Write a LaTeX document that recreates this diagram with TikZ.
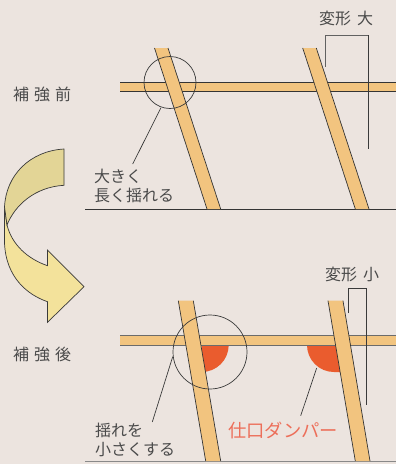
\documentclass[tikz,border=0pt]{standalone}
\usepackage{fontspec}
\setmainfont{Noto Sans CJK JP}
\definecolor{bgc}{HTML}{ECE4DF}
\definecolor{wood}{HTML}{F2C47F}
\definecolor{ink}{HTML}{3A3A3A}
\definecolor{txt}{HTML}{4A4A4A}
\definecolor{tanc}{HTML}{E3D596}
\definecolor{yelc}{HTML}{F3E29B}
\definecolor{damp}{HTML}{EA5C2E}
\definecolor{redt}{HTML}{EC6F5A}
\tikzset{
  lbl/.style={inner sep=0pt,text=txt,font=\fontsize{16}{18}\selectfont,anchor=center},
  thin line/.style={draw=ink,line width=0.7pt},
  edge line/.style={draw=ink!90!black,line width=0.7pt},
}
\begin{document}
\begin{tikzpicture}[x=1pt,y=-1pt]
\useasboundingbox (0,0) rectangle (396,464);
\fill[bgc] (0,0) rectangle (396,464);
% arrow
\path[fill=yelc,draw=ink,line width=0.7pt,line join=miter]
  (4.5,207) -- (4.5,243) .. controls (6,278) and (28,295) .. (47.5,301.7)
  -- (47.5,322.3) -- (84,286.7) -- (47.5,250) -- (47.5,265.7)
  .. controls (28,259) and (12,245) .. (7,225) -- cycle;
\path[fill=tanc,draw=ink,line width=0.7pt,line join=miter]
  (64,149) .. controls (30,151) and (6,175) .. (4.5,207) -- (7,225)
  .. controls (15,205) and (35,187) .. (64,185.3) -- cycle;
% top frame
\fill[wood] (120,82.5) rectangle (396,91);
\draw[edge line] (120,82.5) -- (396,82.5) (120,91) -- (396,91);
\draw[edge line] (85,209.5) -- (396,209.5);
\foreach \a/\b/\c/\d/\e in {154.5/168/207/220.7/48, 302.7/316.3/355.3/369/48}{
  \fill[wood] (\a,\e) -- (\b,\e) -- (\d,209) -- (\c,209) -- cycle;
  \draw[edge line] (\a,\e) -- (\c,209) (\b,\e) -- (\d,209);
}
\coordinate (bigc) at (170,82.5);
\draw[thin line] (bigc) circle [radius=26];
\coordinate (l1a) at (161,107.7);
\coordinate (l1b) at (132.7,164);
\draw[thin line] (l1a) -- (l1b);
\draw[thin line,draw=ink!80] (325.7,66.7) -- (325.7,35) -- (368,35);
\draw[thin line] (368,35) -- (368,149);
\node[lbl] (t1) at (346,18) {変形\hspace{6pt}大};
\node[lbl,anchor=west] (t2) at (94,176) {大きく};
\node[lbl,anchor=west] (t3) at (94,195) {長く揺れる};
\node[lbl,anchor=west] (t4) at (13,94) {補\hspace{5pt}強\hspace{5pt}前};
\node[lbl,anchor=west] (t5) at (13,354) {補\hspace{5pt}強\hspace{5pt}後};
% bottom frame: dampers
\fill[damp] (201.7,345) -- (228.7,345) arc [start angle=0,end angle=90,x radius=27,y radius=27] -- cycle;
\fill[damp] (334,345) -- (307,345) arc [start angle=180,end angle=90,x radius=27,y radius=27] -- (345,372.5) -- (345,345) -- cycle;
\fill[wood] (120,335) rectangle (396,345);
\draw[draw=ink!75,line width=1pt] (120,335) -- (396,335) (120,345) -- (396,345);
\draw[draw=ink!60,line width=1pt] (85,461.7) -- (396,461.7);
\foreach \a/\b/\c/\d in {178.3/193.3/205.7/220.7, 328/343/355.3/370}{
  \fill[wood] (\a,300.7) -- (\b,300.7) -- (\d,461) -- (\c,461) -- cycle;
  \draw[edge line] (\a,300.7) -- (\c,461) (\b,300.7) -- (\d,461);
}
\coordinate (smc) at (210,352);
\draw[thin line] (smc) circle [radius=37];
\coordinate (l2a) at (172.7,356.7);
\coordinate (l2b) at (152.3,422);
\draw[thin line] (l2a) -- (l2b);
\coordinate (l3a) at (316.7,368);
\coordinate (l3b) at (300.7,415.7);
\draw[thin line] (l3a) -- (l3b);
\draw[thin line] (348.3,313) -- (348.3,288) -- (366.7,288) -- (366.7,405);
\node[lbl] (t6) at (352,274) {変形\hspace{6pt}小};
\node[lbl,anchor=west] (t7) at (95,430) {揺れを};
\node[lbl,anchor=west] (t8) at (95,450) {小さくする};
\node[lbl,anchor=west,text=redt,font=\fontsize{18.3}{20}\selectfont] (t9) at (228,430) {仕口ダンパー};
\end{tikzpicture}
\end{document}
